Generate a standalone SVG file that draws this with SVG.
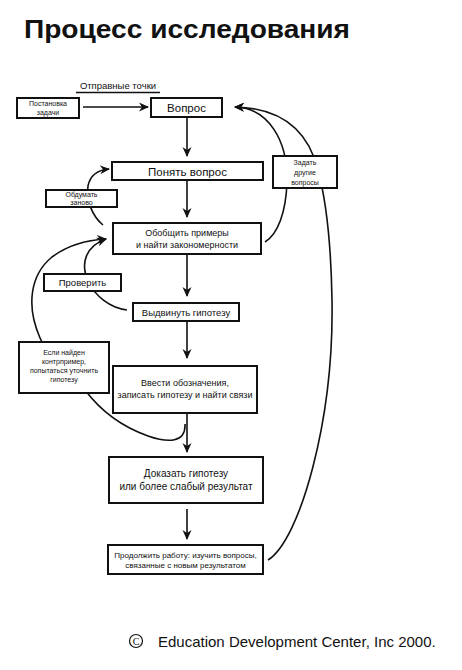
<svg xmlns="http://www.w3.org/2000/svg" width="462" height="670" viewBox="0 0 462 670">
<style>
  .box { fill: #fff; stroke: #111; stroke-width: 2; }
  .ln { fill: none; stroke: #111; stroke-width: 1.6; }
  .t { font-family: "Liberation Sans", Arial, sans-serif; fill: #111; text-anchor: middle; }
  .s7 { font-size: 7px; }
  .s8 { font-size: 8px; }
  .s9 { font-size: 9px; }
  .s95 { font-size: 9.5px; }
  .s10 { font-size: 10px; }
  .s11 { font-size: 11.5px; }
</style>
<defs>
  <marker id="ah" markerWidth="10" markerHeight="10" refX="9" refY="5" orient="auto" markerUnits="userSpaceOnUse">
    <path d="M0,0.5 L10,5 L0,9.5 L3,5 z" fill="#111"/>
  </marker>
</defs>
<rect width="462" height="670" fill="#fff"/>
<text x="24" y="37.5" font-family="Liberation Sans, Arial, sans-serif" font-weight="bold" font-size="26.5" fill="#111" textLength="326" lengthAdjust="spacingAndGlyphs">Процесс исследования</text>

<g id="connectors">
  <path class="ln" d="M83,107 L148,107" marker-end="url(#ah)"/>
  <path class="ln" d="M187,118 L187,156" marker-end="url(#ah)"/>
  <path class="ln" d="M187,181 L187,217" marker-end="url(#ah)"/>
  <path class="ln" d="M187,255 L187,296" marker-end="url(#ah)"/>
  <path class="ln" d="M187,322 L187,358" marker-end="url(#ah)"/>
  <path class="ln" d="M187,414 L187,452" marker-end="url(#ah)"/>
  <path class="ln" d="M187,509 L187,539" marker-end="url(#ah)"/>
  <!-- Обдумать заново -->
  <path class="ln" d="M103,225 C 92,216 86,200 88,186 C 90,176 97,170 109,169" marker-end="url(#ah)"/>
  <!-- Проверить -->
  <path class="ln" d="M127,310 C 110,308 95,296 88,281 C 80,263 86,246 106,239" marker-end="url(#ah)"/>
  <!-- Если найден контрпример -->
  <path class="ln" d="M185,424 C 186,443 168,443 148,436 C 120,426 100,410 85,390 C 70,372 50,360 40,338 C 26,306 30,275 52,257 C 68,245 88,240 106,239" marker-end="url(#ah)"/>
  <!-- Задать другие вопросы (inner) -->
  <path class="ln" d="M265,242 C 278,234 286,212 287,182 C 288,140 268,108 235,107" marker-end="url(#ah)"/>
  <!-- Задать другие вопросы (outer) -->
  <path class="ln" d="M268,560 C 300,540 334,420 332,300 C 331,240 326,200 318,170 C 308,130 282,108 235,107" marker-end="url(#ah)"/>
</g>

<g id="label-start">
  <text class="t s95" x="118" y="89">Отправные точки</text>
  <line x1="76" y1="92.5" x2="160" y2="92.5" stroke="#111" stroke-width="1.3"/>
</g>

<g id="n-postanovka">
  <rect class="box" x="17" y="98" width="62" height="20"/>
  <text class="t s7" x="48" y="106">Постановка</text>
  <text class="t s7" x="48" y="115">задачи</text>
</g>
<g id="n-vopros">
  <rect class="box" x="151" y="98" width="71" height="19"/>
  <text class="t s11" x="186.5" y="112">Вопрос</text>
</g>
<g id="n-ponyat">
  <rect class="box" x="112" y="162" width="151" height="18"/>
  <text class="t s11" x="187.5" y="175.5">Понять вопрос</text>
</g>
<g id="n-obdumat">
  <rect class="box" x="46" y="190" width="71" height="17"/>
  <text class="t s7" x="81.5" y="197">Обдумать</text>
  <text class="t s7" x="81.5" y="205">заново</text>
</g>
<g id="n-zadat">
  <rect class="box" x="273" y="156" width="64" height="32"/>
  <text class="t s7" x="305" y="165">Задать</text>
  <text class="t s7" x="305" y="175">другие</text>
  <text class="t s7" x="305" y="185">вопросы</text>
</g>
<g id="n-obobshchit">
  <rect class="box" x="113" y="223" width="148" height="31"/>
  <text class="t s9" x="187" y="236">Обобщить примеры</text>
  <text class="t s9" x="187" y="247.5">и найти закономерности</text>
</g>
<g id="n-proverit">
  <rect class="box" x="44" y="274" width="77" height="17"/>
  <text class="t s95" x="82.5" y="286">Проверить</text>
</g>
<g id="n-vydvinut">
  <rect class="box" x="133" y="303" width="106" height="18"/>
  <text class="t s95" x="186" y="315.5">Выдвинуть гипотезу</text>
</g>
<g id="n-esli">
  <rect class="box" x="19" y="342" width="90" height="51"/>
  <text class="t s7" x="64" y="355">Если найден</text>
  <text class="t s7" x="64" y="364">контрпример,</text>
  <text class="t s7" x="64" y="373">попытаться уточнить</text>
  <text class="t s7" x="64" y="382">гипотезу</text>
</g>
<g id="n-vvesti">
  <rect class="box" x="113" y="366" width="144" height="47"/>
  <text class="t s9" x="185" y="386">Ввести обозначения,</text>
  <text class="t s9" x="185" y="398">записать гипотезу и найти связи</text>
</g>
<g id="n-dokazat">
  <rect class="box" x="109" y="457" width="154" height="46"/>
  <text class="t s10" x="186" y="477">Доказать гипотезу</text>
  <text class="t s10" x="186" y="490">или более слабый результат</text>
</g>
<g id="n-prodolzhit">
  <rect class="box" x="108" y="545" width="155" height="29"/>
  <text class="t s8" x="185.5" y="557.5">Продолжить работу: изучить вопросы,</text>
  <text class="t s8" x="185.5" y="568">связанные с новым результатом</text>
</g>

<g id="footer">
  <circle cx="136" cy="641" r="6.5" fill="none" stroke="#111" stroke-width="1.2"/>
  <text x="136" y="644.5" font-family="Liberation Serif, serif" font-size="10" fill="#111" text-anchor="middle">C</text>
  <text x="158" y="647" font-family="Liberation Sans, Arial, sans-serif" font-size="15" fill="#111">Education Development Center, Inc 2000.</text>
</g>
</svg>
